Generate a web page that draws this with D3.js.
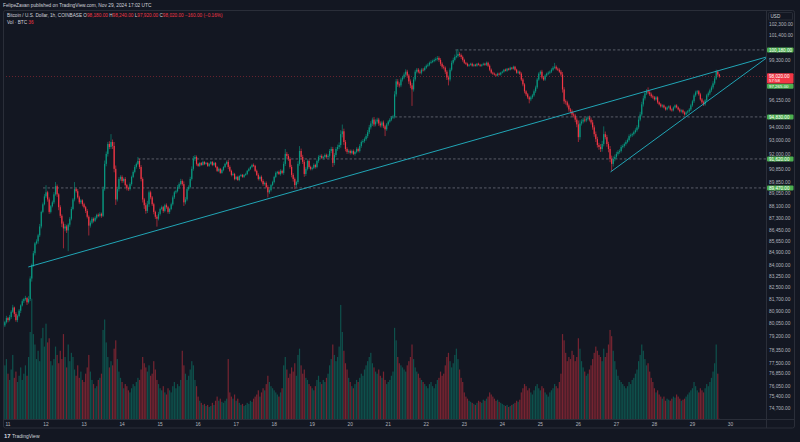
<!DOCTYPE html>
<html><head><meta charset="utf-8">
<script src="https://cdn.jsdelivr.net/npm/d3@7"></script>
<style>
html,body{margin:0;padding:0;background:#131722;}
svg{display:block;font-family:"Liberation Sans",Arial,sans-serif;}
</style></head><body>
<svg id="c" width="800" height="442"></svg>
<script>
// ---------------- DATA ----------------
const startOpen = 80100;
const closes = [
79940,80150,80420,
80290,80490,80840,81120,80700,80290,80560,80910,81260,81540,81680,81750,81470,81680,83070,83970,84810,85500,85640,86060,86690,87730,88280,88850,
89150,88630,87730,88140,88420,89000,89600,89000,88070,87450,86890,86550,86690,86410,86820,87240,87940,88630,89380,89230,88780,88420,88560,88280,
88070,87800,87380,86750,86960,87240,87100,87310,87520,87450,87590,87450,89380,91250,92000,92750,92520,92900,92600,90880,88630,89380,90130,90280,
89980,90130,89680,89450,89380,89750,90280,90650,91020,91250,91470,91020,90130,88630,88210,87800,88280,89150,88780,88280,87730,87380,87240,87590,
87940,88070,87800,88210,88070,87730,87940,88280,88780,89150,89230,89530,89750,89980,89750,88420,88630,89380,89530,90130,90880,91620,91770,91250,
91100,91320,91170,91400,91250,91320,91100,91250,91400,91170,91320,91020,90730,90880,90580,90800,91020,91250,91400,91020,90730,90430,90500,90130,
90280,90050,90350,90430,90280,90430,90500,90730,90880,91020,91170,91100,90730,90430,90130,90280,89980,89750,89830,89530,89150,89300,89680,89900,
90280,90580,90650,90500,90730,90580,91250,92000,91850,91620,91020,90430,90130,89680,89900,91250,92220,91770,91400,90500,90880,91470,91020,90880,
90950,91170,91020,91470,91770,91850,91700,91770,91920,91770,91850,92220,92370,91320,91920,92370,92520,92670,93500,93720,92900,92370,92150,92220,
92070,92220,92000,92150,92370,92220,92600,92900,92970,93120,93350,93650,94020,94320,94620,94250,94470,94620,94320,94170,94400,94100,93870,94250,
94470,94620,94780,94860,96600,97630,97390,97310,97780,97940,98180,98410,98100,97630,97310,96990,97780,98410,98570,98410,98330,98570,98540,98730,
98890,98970,99130,99200,99280,99360,99440,99520,99360,99050,98810,98730,98410,97940,97780,98570,99130,99360,99600,99680,99840,99760,99600,99360,
99130,99050,98890,98970,99050,98890,98970,98890,99050,98970,98890,98970,99050,98970,99130,98890,98570,98330,98250,98180,98100,98250,98180,98330,
98410,98570,98490,98650,98570,98730,98650,98810,98570,98330,98410,98250,97780,97390,96840,96600,96360,96200,96360,96520,96840,97150,97780,98250,
98410,97940,97780,98100,98250,98330,98410,98570,98730,98810,98650,98570,98410,98180,96990,96050,95970,95730,95410,95260,95020,94940,94620,94250,
93270,94320,94470,94620,94550,94700,94780,94620,94400,94020,93500,93120,92670,92520,92370,92750,93500,93270,92750,92370,91620,91250,91620,91770,
92000,92150,92220,92520,92600,92750,92900,93050,93350,93420,93500,93650,93800,94020,94620,95020,95810,96280,96680,96840,96760,96600,96440,96360,
96200,96360,95970,95810,95650,95730,95570,95410,95570,95650,95410,95340,95570,95730,95570,95410,95260,95340,95180,95020,95180,95260,95410,95730,
96050,96520,96760,96840,96600,96200,95970,95810,96120,96520,96680,96920,97150,97470,97860,98410,98180,98020
];
const wickUp = [
120,90,150,
80,140,100,180,60,120,90,110,70,130,90,150,60,200,150,120,160,90,140,110,180,90,130,170,
520,110,150,90,130,160,300,120,90,140,110,150,170,120,100,130,160,110,520,90,150,120,100,80,
110,90,130,100,150,120,90,110,80,100,120,90,200,250,180,160,210,600,190,300,250,180,140,120,
120,100,140,90,110,130,100,120,150,110,300,160,140,120,110,180,250,130,120,100,110,90,120,140,
100,120,90,110,130,100,80,120,140,110,100,150,130,160,120,200,170,140,130,160,180,220,150,110,
80,60,70,90,50,70,60,80,70,60,90,70,80,100,70,90,60,80,100,150,120,90,110,80,
70,90,60,80,70,60,90,70,80,60,90,110,80,100,120,90,110,130,100,120,140,110,90,100,
90,110,80,100,120,90,180,370,150,140,120,160,130,110,100,200,370,180,160,140,150,120,110,100,
100,120,90,110,130,100,120,90,110,100,130,150,170,160,140,150,180,200,300,520,200,150,130,110,
110,100,120,90,130,110,140,120,150,130,160,170,190,180,160,210,170,150,140,160,130,150,120,110,
100,120,110,130,250,200,180,160,150,140,170,190,150,130,160,180,200,150,140,130,160,120,140,110,
110,120,100,130,110,120,140,160,130,150,120,140,110,130,150,160,170,180,200,470,400,150,130,120,
100,80,90,70,80,90,70,80,60,90,80,70,90,80,100,90,110,100,80,90,70,80,90,70,
80,70,90,60,70,80,60,90,70,80,100,90,110,120,100,90,110,100,130,120,150,140,130,110,
110,150,120,100,90,110,100,120,130,310,110,100,120,140,200,180,150,130,140,120,150,160,130,150,
300,250,180,150,160,140,130,150,170,190,160,200,180,170,220,240,600,200,180,170,220,250,200,180,
160,140,130,150,120,110,130,120,140,130,110,120,150,170,190,210,200,220,180,170,310,150,140,130,
110,100,90,80,100,90,80,70,90,80,100,90,80,70,90,80,100,90,80,90,100,110,120,130,
120,140,130,110,100,120,110,130,100,120,140,130,150,170,160,160,120,60
];
const wickDn = [
180,110,90,
150,90,120,80,200,110,140,90,160,70,120,100,180,90,130,210,110,150,90,170,120,140,100,80,
120,160,140,110,90,130,100,180,220,160,250,1400,200,180,1460,150,120,100,140,110,90,130,120,150,
100,150,120,700,140,110,130,90,120,100,110,140,90,120,180,200,160,150,230,260,400,150,170,130,
140,120,110,160,130,100,120,90,110,130,100,150,180,220,260,200,150,190,140,130,170,150,560,120,
120,90,140,100,110,130,150,90,100,120,110,90,130,100,120,260,150,130,110,100,120,140,160,130,
70,80,60,50,90,60,70,80,60,90,70,60,80,90,70,60,100,80,70,160,90,110,80,100,
80,60,90,70,60,80,70,90,60,80,70,90,100,80,110,120,100,130,110,90,370,120,100,90,
100,90,110,80,120,100,140,160,200,150,130,180,200,300,170,150,140,190,160,210,150,120,130,110,
110,90,120,100,140,110,90,120,100,130,110,140,160,300,170,150,140,160,200,250,220,180,150,130,
120,100,90,130,110,100,120,140,110,130,120,150,140,160,200,170,150,160,180,150,170,140,520,120,
110,90,120,100,150,180,200,170,140,160,130,150,180,200,220,1300,170,150,140,130,120,140,110,100,
100,110,120,90,100,110,120,130,150,170,160,140,180,200,470,150,130,140,120,110,130,150,160,140,
90,100,80,90,70,80,90,70,80,60,90,80,70,90,100,110,120,90,100,80,90,70,80,90,
70,80,60,90,70,60,80,70,90,80,100,110,130,150,160,140,120,310,140,120,110,130,120,100,
120,140,100,110,90,100,120,110,100,90,120,110,100,150,250,200,180,160,170,150,180,160,200,220,
370,200,160,150,140,130,150,140,160,180,200,220,190,210,230,200,180,170,210,250,240,520,200,180,
150,130,140,120,110,130,120,100,110,120,130,110,100,120,140,130,150,170,160,140,150,130,120,110,
100,90,110,80,90,100,80,90,70,80,90,100,80,90,70,80,90,100,110,90,80,100,110,120,
110,130,120,140,110,100,120,130,110,100,120,140,130,150,120,110,140,100
];
const volumes = [
3800,2600,2900,
2200,1900,2400,3100,2000,2300,1800,2100,2500,1900,2200,2600,2100,3000,4200,5800,4100,3600,2900,3300,2800,3900,4400,3500,
4600,3700,3900,2800,2600,2900,3500,3100,2700,3300,2900,4100,3000,2500,3600,2800,3200,3000,2400,2100,2600,2000,2300,1900,
1800,2200,2500,3100,2300,1900,1700,1500,1600,1900,2000,2200,4300,4800,3700,3000,2500,2800,2600,3400,3800,2900,2300,2000,
1800,1500,1700,1600,1400,1300,1500,1700,1600,1800,2000,1900,2400,3000,2700,2500,2300,2600,2100,2200,2800,2400,1900,1700,
1500,1400,1600,1300,1200,1500,1400,1300,1600,1800,1500,1700,1600,1900,3300,2600,2200,1900,2100,2400,2800,2600,1900,1600,
1100,900,800,700,750,650,700,600,650,800,700,900,1100,900,1000,850,800,900,1000,2900,1300,1100,1000,1200,
900,1000,800,700,750,650,700,800,750,900,850,1000,1100,1200,1400,1100,1300,1500,1400,1700,2100,1800,1600,1500,
1400,1300,1200,1100,1300,1500,2600,3000,2400,2000,2200,2500,2300,2700,2100,3100,3400,2600,2200,2400,2000,1900,1700,1600,
1500,1400,1600,1900,2100,1800,1700,1900,1800,2000,2200,2600,2900,3600,3100,2800,3000,3500,5500,4200,3300,2700,2400,2000,
1800,1600,1500,1700,1900,1800,2000,2200,2100,2400,2600,2800,3000,3200,2700,2500,2300,2200,2400,2100,2000,2300,1900,1700,
1800,1900,2100,2300,4400,3800,3000,2700,2600,2500,2400,2300,2600,2800,3000,3600,2900,2500,2300,2200,2000,1900,1800,1700,
1600,1500,1700,1800,1600,1500,1700,1900,2000,2300,2100,2200,2600,3000,3200,2800,2500,2700,3100,3400,2900,2400,2000,1800,
1300,1100,1000,900,850,800,750,700,800,900,850,800,950,900,1000,1100,1300,1200,1100,1000,900,950,850,800,
750,700,650,700,600,650,700,750,800,900,850,950,1300,1500,1700,1600,1400,1500,1300,1200,1400,1600,1700,1500,
1400,1600,1500,1300,1200,1100,1300,1400,1500,1700,1600,1500,1800,2200,4100,3800,3200,2800,3000,2900,3300,3100,2800,3000,
3900,3400,2800,2500,2300,2100,2200,2400,2600,2900,3200,3500,3300,3100,3000,2800,3400,3000,3200,3600,4300,4000,3300,2800,
2400,2100,1900,1800,1700,1600,1500,1600,1800,1700,1900,2000,2200,2400,2800,3100,3600,3300,2900,2600,2700,2300,2000,1800,
1500,1300,1400,1200,1100,1000,1100,900,1000,950,900,1000,1100,1050,1200,1100,1000,900,950,1000,1100,1200,1300,1400,
1500,1800,1600,1400,1300,1500,1400,1300,1500,1700,1600,1800,2000,2300,2700,3600,2200,36
];
const dayLabels = ["11","12","13","14","15","16","17","18","19","20","21","22","23","24","25","26","27","28","29","30"];
const priceTicks = [102300,101400,99300,96150,94000,93000,92000,90850,89850,89050,88100,87300,86450,85650,84900,84000,83250,82500,81700,80900,80050,79200,78350,77500,76850,76050,75400,74700];
// horizontal rays: start candle index, price
const rayStart = [285.4, 244.3, 85.1, 25.1];
const rayPrice = [100180, 94830, 91620, 89470];
// trend lines: [index, price] pairs
const trendFrom = [[15.8, 83860], [383.3, 90650]];
const trendTo   = [[481.7, 99600], [481.7, 99520]];
const extraLabelPrice = 97265;
const countdown = "57:58";
const headerText = "FelipeZavan published on TradingView.com, Nov 29, 2024 17:02 UTC";
const symbolText = "Bitcoin / U.S. Dollar, 1h, COINBASE";

// ---------------- DRAW ----------------
const svg = d3.select("#c");
const W = 800, H = 442;
const L = 3, R = 766.5, T = 10.5, B = 419.5;
const UP = "#089981", DN = "#f23645";

svg.append("rect").attr("width", W).attr("height", H).attr("fill", "#131722");

const n = closes.length;
const opens = closes.map((c, i) => i === 0 ? startOpen : closes[i - 1]);
const highs = closes.map((c, i) => Math.max(opens[i], c) + wickUp[i]);
const lows = closes.map((c, i) => Math.min(opens[i], c) - wickDn[i]);

const x = d3.scaleLinear().domain([-0.158, 481.74]).range([L, R]);
const y = d3.scaleLog().domain([74710, 102330]).range([408, 24]);
const yv = d3.scaleLinear().domain([0, 6000]).range([B, B - 125]);

svg.append("defs").append("clipPath").attr("id", "pane")
  .append("rect").attr("x", L).attr("y", T).attr("width", R - L).attr("height", B - T);
const pane = svg.append("g").attr("clip-path", "url(#pane)");

// volume
pane.append("g").selectAll("rect").data(volumes).join("rect")
  .attr("x", (d, i) => x(i) - 0.6).attr("width", 1.2)
  .attr("y", d => yv(d)).attr("height", d => B - yv(d))
  .attr("fill", (d, i) => closes[i] >= opens[i] ? UP : DN)
  .attr("opacity", 0.45);

// price line (current)
const last = n - 1;
const lastUp = closes[last] >= opens[last];
pane.append("line").attr("x1", L).attr("x2", R)
  .attr("y1", y(closes[last])).attr("y2", y(closes[last]))
  .attr("stroke", lastUp ? UP : DN).attr("stroke-width", 0.7)
  .attr("stroke-dasharray", "1,2").attr("opacity", 0.55);

// horizontal rays
pane.append("g").selectAll("line").data(rayPrice).join("line")
  .attr("x1", (d, i) => x(rayStart[i])).attr("x2", R)
  .attr("y1", d => y(d)).attr("y2", d => y(d))
  .attr("stroke", "#787b86").attr("stroke-width", 0.7).attr("stroke-dasharray", "2.5,2");

// candles
const cg = pane.append("g");
const idx = d3.range(n);
cg.selectAll("line").data(idx).join("line")
  .attr("x1", i => x(i)).attr("x2", i => x(i))
  .attr("y1", i => y(highs[i])).attr("y2", i => y(lows[i]))
  .attr("stroke", i => closes[i] >= opens[i] ? UP : DN).attr("stroke-width", 0.6);
cg.selectAll("rect").data(idx).join("rect")
  .attr("x", i => x(i) - 0.6).attr("width", 1.2)
  .attr("y", i => Math.min(y(opens[i]), y(closes[i])))
  .attr("height", i => Math.max(0.7, Math.abs(y(opens[i]) - y(closes[i]))))
  .attr("fill", i => closes[i] >= opens[i] ? UP : DN);

// trend lines
pane.append("g").selectAll("line").data(trendFrom).join("line")
  .attr("x1", d => x(d[0])).attr("y1", d => y(d[1]))
  .attr("x2", (d, i) => x(trendTo[i][0])).attr("y2", (d, i) => y(trendTo[i][1]))
  .attr("stroke", "#22b5c6").attr("stroke-width", 0.9);

// frame
svg.append("rect").attr("x", L + 0.5).attr("y", T).attr("width", 794.5 - L - 0.5).attr("height", 428 - T)
  .attr("fill", "none").attr("stroke", "#2a2e39").attr("stroke-width", 1).attr("rx", 2);
svg.append("line").attr("x1", R).attr("x2", R).attr("y1", T).attr("y2", 428).attr("stroke", "#2a2e39");
svg.append("line").attr("x1", L).attr("x2", 794.5).attr("y1", B).attr("y2", B).attr("stroke", "#2a2e39");

// y axis labels
const fmt = d3.format(",.2f");
const axG = svg.append("g").attr("font-size", 4.8).attr("fill", "#b2b5be");
axG.selectAll("text").data(priceTicks).join("text")
  .attr("x", 769).attr("y", d => y(d)).attr("dy", "0.35em").text(d => fmt(d));

// USD box
svg.append("rect").attr("x", 768.5).attr("y", 12.5).attr("width", 24).attr("height", 7.5)
  .attr("fill", "#131722").attr("stroke", "#363a45").attr("stroke-width", 0.6).attr("rx", 1);
svg.append("text").attr("x", 770.5).attr("y", 16.3).attr("dy", "0.35em").attr("font-size", 4.6)
  .attr("fill", "#d1d4dc").text("USD");

// ray labels
const lab = svg.append("g");
rayPrice.forEach(p => {
  lab.append("rect").attr("x", 767).attr("y", y(p) - 2.5).attr("width", 26.5).attr("height", 5)
    .attr("fill", "#4caf50").attr("rx", 1);
  lab.append("text").attr("x", 769).attr("y", y(p)).attr("dy", "0.35em").attr("font-size", 4.6)
    .attr("fill", "#ffffff").text(fmt(p));
});
// extra level label
lab.append("rect").attr("x", 767).attr("y", y(extraLabelPrice) - 2.3).attr("width", 26.5).attr("height", 5)
  .attr("fill", "#4caf50").attr("rx", 1);
lab.append("text").attr("x", 769).attr("y", y(extraLabelPrice) + 0.2).attr("dy", "0.35em").attr("font-size", 4.4)
  .attr("fill", "#ffffff").text(fmt(extraLabelPrice));
// current price label
const cy = y(closes[last]);
lab.append("rect").attr("x", 767).attr("y", cy - 3.3).attr("width", 26.5).attr("height", 10.3)
  .attr("fill", lastUp ? UP : DN).attr("rx", 1);
lab.append("text").attr("x", 769).attr("y", cy - 0.4).attr("dy", "0.35em").attr("font-size", 4.6)
  .attr("fill", "#ffffff").text(fmt(closes[last]));
lab.append("text").attr("x", 769).attr("y", cy + 4.3).attr("dy", "0.35em").attr("font-size", 4.4)
  .attr("fill", "#ffffff").text(countdown);

// x axis labels
svg.append("g").attr("font-size", 4.8).attr("fill", "#b2b5be").attr("text-anchor", "middle")
  .selectAll("text").data(dayLabels).join("text")
  .attr("x", (d, i) => x(3 + 24 * i)).attr("y", 424.2).attr("dy", "0.35em").text(d => d);

// header
svg.append("text").attr("x", 3).attr("y", 5.6).attr("dy", "0.35em").attr("font-size", 4.8)
  .attr("fill", "#d1d4dc").text(headerText);

// legend
const o = opens[last], h = highs[last], l = lows[last], c = closes[last];
const chg = c - o;
const lg = svg.append("text").attr("x", 7).attr("y", 15.6).attr("dy", "0.35em").attr("font-size", 4.7).attr("fill", "#d1d4dc");
lg.append("tspan").text(symbolText + "  ");
const col = chg >= 0 ? UP : DN;
[["O", o], ["H", h], ["L", l], ["C", c]].forEach(([k, v]) => {
  lg.append("tspan").attr("fill", "#d1d4dc").text(k);
  lg.append("tspan").attr("fill", col).text(fmt(v) + " ");
});
lg.append("tspan").attr("fill", col).text((chg >= 0 ? "+" : "\u2212") + fmt(Math.abs(chg)) + " (" + (chg >= 0 ? "+" : "\u2212") + d3.format(".2f")(Math.abs(chg / o * 100)) + "%)");
const lg2 = svg.append("text").attr("x", 7).attr("y", 22.3).attr("dy", "0.35em").attr("font-size", 4.7).attr("fill", "#d1d4dc");
lg2.append("tspan").text("Vol \u00b7 BTC  ");
lg2.append("tspan").attr("fill", lastUp ? UP : DN).text(volumes[last]);

// footer logo
svg.append("text").attr("x", 4).attr("y", 436).attr("dy", "0.35em").attr("font-size", 6).attr("font-weight", "bold")
  .attr("fill", "#d1d4dc").text("17");
svg.append("text").attr("x", 12).attr("y", 436).attr("dy", "0.35em").attr("font-size", 5)
  .attr("fill", "#d1d4dc").text("TradingView");
</script>
</body></html>
